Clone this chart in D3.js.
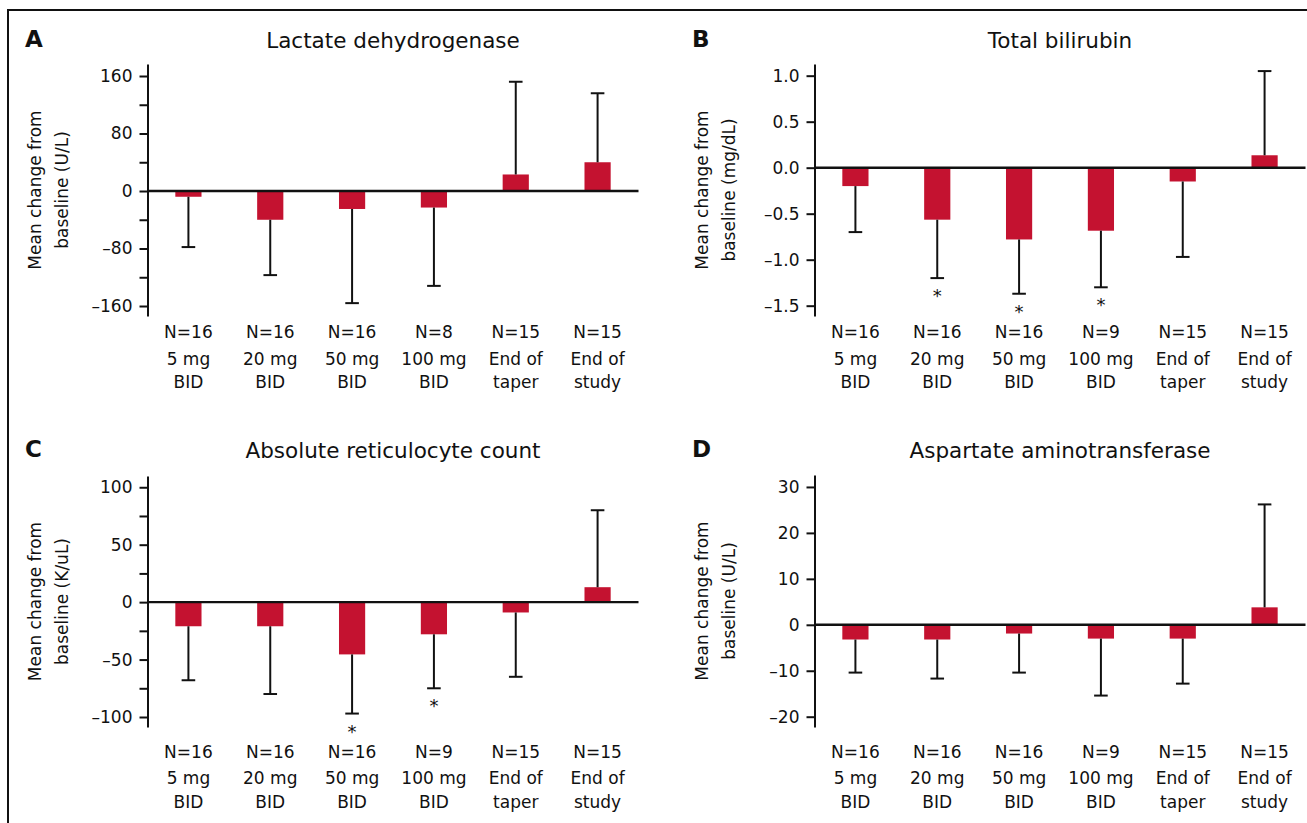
<!DOCTYPE html>
<html>
<head>
<meta charset="utf-8">
<script src="https://cdn.jsdelivr.net/npm/d3@7"></script>
<style>
  body { margin: 0; background: #fff; }
  svg text { font-family: "DejaVu Sans", "Liberation Sans", Arial, sans-serif; fill: #111; }
  .axis path, .axis line { stroke: #111; stroke-width: 2; }
</style>
</head>
<body>
<svg id="fig" width="1307" height="823"></svg>
<script>
// groups along the x axis (same for every panel)
var groups = [["5 mg", "BID"], ["20 mg", "BID"], ["50 mg", "BID"], ["100 mg", "BID"], ["End of", "taper"], ["End of", "study"]];

// A - lactate dehydrogenase (U/L)
var ldhN = [16, 16, 16, 8, 15, 15];
var ldhMean = [-8, -40, -25, -23, 23, 40];
var ldhErr = [-78, -117, -156, -132, 152, 136];
var ldhStar = [0, 0, 0, 0, 0, 0];
var ldhTicks = [-160, -80, 0, 80, 160];
var ldhMinor = [-120, -40, 40, 120];

// B - total bilirubin (mg/dL)
var bilN = [16, 16, 16, 9, 15, 15];
var bilMean = [-0.2, -0.565, -0.78, -0.685, -0.15, 0.135];
var bilErr = [-0.70, -1.20, -1.37, -1.30, -0.97, 1.05];
var bilStar = [0, 1, 1, 1, 0, 0];
var bilTicks = [-1.5, -1.0, -0.5, 0, 0.5, 1.0];

// C - absolute reticulocyte count (K/uL)
var retN = [16, 16, 16, 9, 15, 15];
var retMean = [-21, -21, -45.5, -28, -9, 13];
var retErr = [-68, -80, -97, -75, -65, 80];
var retStar = [0, 0, 1, 1, 0, 0];
var retTicks = [-100, -50, 0, 50, 100];
var retMinor = [-75, -25, 25, 75];

// D - aspartate aminotransferase (U/L)
var astN = [16, 16, 16, 9, 15, 15];
var astMean = [-3.2, -3.2, -1.9, -3.0, -3.0, 3.8];
var astErr = [-10.4, -11.7, -10.4, -15.4, -12.8, 26.2];
var astStar = [0, 0, 0, 0, 0, 0];
var astTicks = [-20, -10, 0, 10, 20, 30];

function dash(v) { return v < 0 ? "\u2013" + Math.abs(v) : "" + v; }
function dash1(v) { return (v < 0 ? "\u2013" : "") + Math.abs(v).toFixed(1); }

var panels = [
  {letter: "A", title: "Lactate dehydrogenase", unit: "baseline (U/L)", n: ldhN, mean: ldhMean, err: ldhErr, star: ldhStar,
   ticks: ldhTicks, minor: ldhMinor, fmt: dash, domain: [-173.9, 176.7], ox: 0, top: 64, bottom: 316, titleY: 48, labelY: 338},
  {letter: "B", title: "Total bilirubin", unit: "baseline (mg/dL)", n: bilN, mean: bilMean, err: bilErr, star: bilStar,
   ticks: bilTicks, minor: [], fmt: dash1, domain: [-1.612, 1.127], ox: 667, top: 64, bottom: 316, titleY: 48, labelY: 338},
  {letter: "C", title: "Absolute reticulocyte count", unit: "baseline (K/uL)", n: retN, mean: retMean, err: retErr, star: retStar,
   ticks: retTicks, minor: retMinor, fmt: dash, domain: [-108.7, 109.8], ox: 0, top: 476, bottom: 727, titleY: 458, labelY: 757.5},
  {letter: "D", title: "Aspartate aminotransferase", unit: "baseline (U/L)", n: astN, mean: astMean, err: astErr, star: astStar,
   ticks: astTicks, minor: [], fmt: dash, domain: [-22.24, 32.6], ox: 667, top: 475, bottom: 727, titleY: 458, labelY: 757.5}
];

var svg = d3.select("#fig");

// frame around the figure
svg.append("path")
  .attr("d", "M8,823V10H1307")
  .attr("fill", "none")
  .attr("stroke", "#111")
  .attr("stroke-width", 2);

var axisX = 147.5, plotW = 491;

panels.forEach(function(p) {
  var g = svg.append("g").attr("transform", "translate(" + p.ox + ",0)");

  var x = d3.scaleBand().domain(d3.range(groups.length)).range([axisX, axisX + plotW]);
  var y = d3.scaleLinear().domain(p.domain).range([p.bottom, p.top]);
  var barW = x.bandwidth() * 0.32;
  var cx = function(i) { return x(i) + x.bandwidth() / 2; };

  g.append("text")
    .attr("x", 25).attr("y", p.titleY - 1)
    .style("font-size", "23px").style("font-weight", "bold")
    .text(p.letter);

  g.append("text")
    .attr("x", axisX + plotW / 2).attr("y", p.titleY)
    .attr("text-anchor", "middle")
    .style("font-size", "21.5px")
    .text(p.title);

  // y label, two lines
  var mid = (p.top + p.bottom) / 2;
  [["Mean change from", -107], ["" + p.unit, -80]].forEach(function(l) {
    g.append("text")
      .attr("transform", "rotate(-90)")
      .attr("x", -mid).attr("y", axisX + l[1])
      .attr("text-anchor", "middle")
      .style("font-size", "17px")
      .text(l[0]);
  });

  // bars
  g.selectAll("rect.bar")
    .data(p.mean)
    .enter()
    .append("rect")
    .attr("class", "bar")
    .attr("x", function(d, i) { return cx(i) - barW / 2; })
    .attr("y", function(d) { return Math.min(y(d), y(0)); })
    .attr("width", barW)
    .attr("height", function(d) { return Math.abs(y(d) - y(0)); })
    .attr("fill", "#c41230");

  // one-sided error bars
  var eb = g.selectAll("g.err")
    .data(p.err)
    .enter()
    .append("g")
    .attr("class", "err");
  eb.append("line")
    .attr("x1", function(d, i) { return cx(i); })
    .attr("x2", function(d, i) { return cx(i); })
    .attr("y1", function(d, i) { return y(p.mean[i]); })
    .attr("y2", function(d) { return y(d); })
    .attr("stroke", "#111").attr("stroke-width", 2);
  eb.append("line")
    .attr("x1", function(d, i) { return cx(i) - 6.8; })
    .attr("x2", function(d, i) { return cx(i) + 6.8; })
    .attr("y1", function(d) { return y(d); })
    .attr("y2", function(d) { return y(d); })
    .attr("stroke", "#111").attr("stroke-width", 2);

  // significance stars
  g.selectAll("text.star")
    .data(d3.range(groups.length).filter(function(i) { return p.star[i]; }))
    .enter()
    .append("text")
    .attr("class", "star")
    .attr("x", function(i) { return cx(i); })
    .attr("y", function(i) { return y(p.err[i]) + 24; })
    .attr("text-anchor", "middle")
    .style("font-size", "18px")
    .text("*");

  // zero line
  g.append("line")
    .attr("x1", axisX).attr("x2", axisX + plotW)
    .attr("y1", y(0)).attr("y2", y(0))
    .attr("stroke", "#111").attr("stroke-width", 2.4);

  // y axis
  var ax = g.append("g")
    .attr("class", "axis")
    .attr("transform", "translate(" + axisX + ",0)")
    .call(d3.axisLeft(y).tickValues(p.ticks).tickSize(8).tickSizeOuter(0).tickPadding(7).tickFormat(p.fmt));
  ax.selectAll("text").style("font-size", "17px").attr("fill", "#111");

  if (p.minor.length) {
    var mn = g.append("g")
      .attr("class", "axis")
      .attr("transform", "translate(" + axisX + ",0)")
      .call(d3.axisLeft(y).tickValues(p.minor).tickSize(8).tickFormat(""));
    mn.select(".domain").remove();
  }

  // category labels
  var lab = g.selectAll("text.cat")
    .data(groups)
    .enter()
    .append("text")
    .attr("class", "cat")
    .attr("text-anchor", "middle")
    .style("font-size", "17px");
  lab.append("tspan")
    .attr("x", function(d, i) { return cx(i); })
    .attr("y", p.labelY)
    .text(function(d, i) { return "N=" + p.n[i]; });
  lab.append("tspan")
    .attr("x", function(d, i) { return cx(i); })
    .attr("y", p.labelY + 26.7)
    .text(function(d) { return d[0]; });
  lab.append("tspan")
    .attr("x", function(d, i) { return cx(i); })
    .attr("y", p.labelY + 50)
    .text(function(d) { return d[1]; });
});
</script>
</body>
</html>
